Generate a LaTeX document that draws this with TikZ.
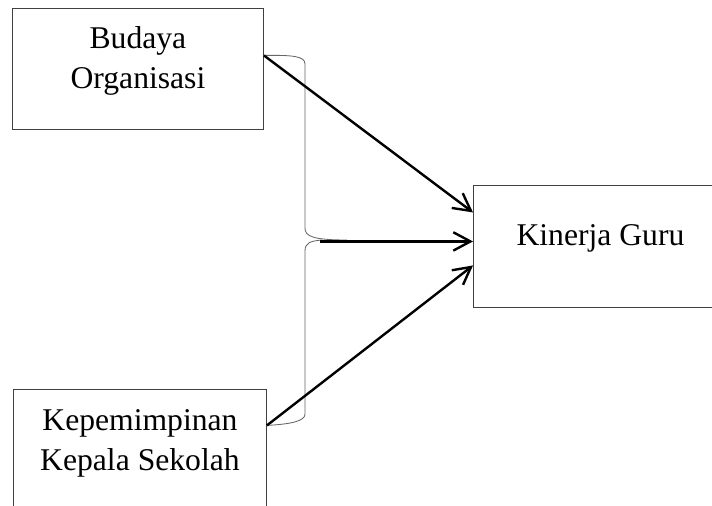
\documentclass[tikz,border=0pt]{standalone}
\usepackage{fontspec}
\setmainfont{Liberation Serif}
\usetikzlibrary{arrows.meta,positioning}
\tikzset{
	box/.style={draw=black!75, line width=0.6pt, inner sep=0pt, align=center, font=\fontsize{22.5}{28.5}\selectfont},
	arr/.style={-{Straight Barb[length=4.3mm,width=4.6mm]}, line width=1.7pt},
	brc/.style={draw=black!60, line width=0.6pt}
}
\begin{document}
\begin{tikzpicture}[x=0.025cm,y=-0.025cm]
	\clip (0,0) rectangle (712,506);
	\node[box, anchor=north west, minimum width=6.275cm, text height=2cm, text depth=1.025cm] (budaya) at (12,8) {Budaya\\Organisasi};
	\node[box, anchor=north west, minimum width=6.325cm, text height=2.025cm, text depth=1cm] (kepala) at (13,389) {Kepemimpinan\\Kepala Sekolah};
	\node[box, anchor=north west, minimum width=6.35cm, text height=1.5cm, text depth=1.55cm] (kinerja) at (473,185) {Kinerja Guru};
	% ends of the arrows
	\coordinate (bo) at ([yshift=0.3375cm]budaya.east);
	\coordinate (kp) at ([yshift=0.6125cm]kepala.east);
	\coordinate (k1) at ([yshift=0.85cm]kinerja.west);
	\coordinate (k2) at ([yshift=0.125cm]kinerja.west);
	\coordinate (k3) at ([yshift=-0.475cm]kinerja.west);
	\coordinate (sm) at ([xshift=-3.825cm]k2);
	% brace
	\draw[brc] (bo) .. controls (292,55) and (305,56) .. (305,64) -- (305,228)
		.. controls (305,236) and (312,240) .. (347,240);
	\draw[brc] (322,240) .. controls (310,241) and (305,243) .. (305,251) -- (305,414)
		.. controls (305,421) and (292,424) .. (kp);
	\foreach \s/\t in {bo/k1,sm/k2,kp/k3}
		\draw[arr] (\s) -- (\t);
\end{tikzpicture}
\end{document}
